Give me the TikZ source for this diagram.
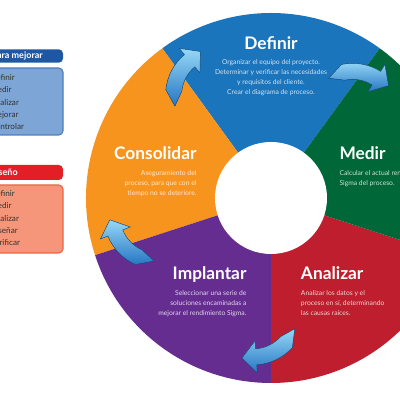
\documentclass[tikz,border=0pt]{standalone}
\usepackage{fontspec}
\setmainfont{Lato}
\usetikzlibrary{positioning}
\definecolor{dblue}{RGB}{27,117,188}
\definecolor{dgreen}{RGB}{0,104,56}
\definecolor{dred}{RGB}{190,30,45}
\definecolor{dpurple}{RGB}{102,45,145}
\definecolor{dorange}{RGB}{247,148,29}
\definecolor{hblue}{RGB}{30,88,165}
\definecolor{lblue}{RGB}{125,165,214}
\definecolor{eblue}{RGB}{78,126,190}
\definecolor{hred}{RGB}{226,30,38}
\definecolor{lred}{RGB}{245,150,122}
\definecolor{ered}{RGB}{236,98,72}
\definecolor{acyan}{RGB}{150,216,246}
\definecolor{adark}{RGB}{38,118,195}
\newcommand{\swoosh}[1]{%
  \begin{scope}[shift={(C)},rotate=#1]
    \fill[swooshfill] ([shift={(18,114)}]158:45) -- ([shift={(18,114)}]138:53)
      arc[start angle=138,end angle=94,radius=53] -- ([shift={(18,114)}]94:61)
      -- (29,160) -- ([shift={(18,114)}]94:29) -- ([shift={(18,114)}]94:37)
      arc[start angle=94,end angle=138,radius=37] -- cycle;
  \end{scope}}

\begin{document}
\begin{tikzpicture}[x=0.025cm,y=0.025cm,
    title/.style={text=white,font=\fontsize{12.3}{14}\selectfont\bfseries,inner sep=0},
    blurb/.style={font=\fontsize{4.8}{7.1}\selectfont,inner sep=0},
    headbar/.style={rounded corners=3pt},
    headtext/.style={text=white,font=\fontsize{6.4}{7}\selectfont\bfseries,inner sep=0,anchor=base east},
    listbox/.style={rounded corners=3pt,line width=0.8pt},
    listtext/.style={text=black!80,font=\fontsize{5.8}{8.8}\selectfont,inner sep=0,anchor=north west,align=left},
    swooshfill/.style={top color=acyan,bottom color=adark,draw=adark!70!black,line width=0.3pt}]
  \useasboundingbox (0,0) rectangle (400,400);
  \clip (0,0) rectangle (400,400);
  \coordinate (C) at (271,202);
  \foreach \a/\c in {54/dblue,126/dorange,198/dpurple,270/dred,342/dgreen}
    \fill[\c] (C) -- ([shift={(C)}]\a:185) arc[start angle=\a,delta angle=72,radius=185] -- cycle;
  \fill[white] (C) circle[radius=56];

  \node[title,anchor=base] (definir) at (271,350.7) {Definir};
  \node[blurb,anchor=north,align=center,text=white!80!dblue] (tdefinir) at (271,341)
    {Organizar el equipo del proyecto.\\Determinar y verificar las necesidades\\y requisitos del cliente.\\Crear el diagrama de proceso.};
  \node[title,anchor=base west] (medir) at (339.3,240.7) {Medir};
  \node[blurb,anchor=north west,align=left,text=white!80!dgreen] (tmedir) at (339.3,230)
    {Calcular el actual rendimiento\\Sigma del proceso.};
  \node[title,anchor=base east] (consolidar) at (196.7,240.5) {Consolidar};
  \node[blurb,anchor=north east,align=right,text=white!80!dorange] (tconsolidar) at (196.7,230)
    {Aseguramiento del\\proceso, para que con el\\tiempo no se deteriore.};
  \node[title,anchor=base east] (implantar) at (246.7,120.7) {Implantar};
  \node[blurb,anchor=north east,align=right,text=white!80!dpurple] (timplantar) at (246.7,110)
    {Seleccionar una serie de\\soluciones encaminadas a\\mejorar el rendimiento Sigma.};
  \node[title,anchor=base west] (analizar) at (300.7,120.7) {Analizar};
  \node[blurb,anchor=north west,align=left,text=white!80!dred] (tanalizar) at (300.7,110)
    {Analizar los datos y el\\proceso en sí, determinando\\las causas raíces.};

  \swoosh{36}
  \swoosh{-36}
  \swoosh{108}
  \swoosh{180}

  \draw[listbox,eblue,fill=lblue] (-10,265) rectangle (63,332);
  \fill[headbar,hblue] (-10,337.3) rectangle (63,350.7);
  \node[headtext] (mejorar) at (43,341) {Para mejorar};
  \node[listtext] (lmejorar) at (-10,326) {Definir\\Medir\\Analizar\\Mejorar\\Controlar};

  \draw[listbox,ered,fill=lred] (-10,147) rectangle (63,215);
  \fill[headbar,hred] (-10,220) rectangle (63,235);
  \node[headtext] (diseno) at (18,224) {Para diseño};
  \node[listtext] (ldiseno) at (-10,210) {Definir\\Medir\\Analizar\\Diseñar\\Verificar};
\end{tikzpicture}
\end{document}
